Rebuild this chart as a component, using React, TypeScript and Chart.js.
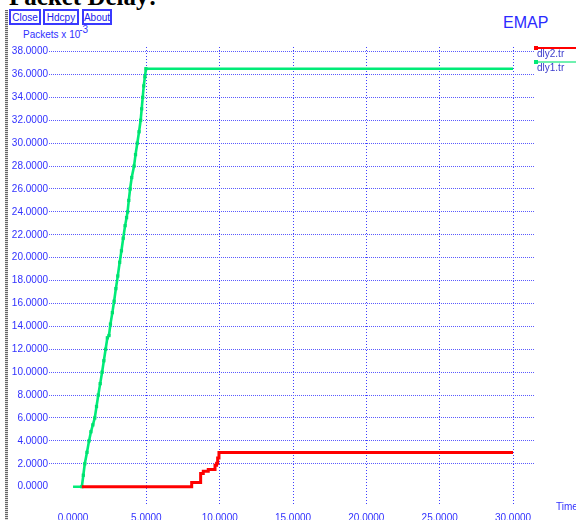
import React, { useEffect, useRef } from "react";
import { Chart, registerables } from "chart.js";

Chart.register(...registerables);

const xTickValues = [0, 5, 10, 15, 20, 25, 30];
const yTickValues = [0, 2, 4, 6, 8, 10, 12, 14, 16, 18, 20, 22, 24, 26, 28, 30, 32, 34, 36, 38];

// dly1.tr (green)
const dly1X = [0.0, 0.6, 0.7, 0.8, 0.95, 1.09, 1.22, 1.35, 1.48, 1.6, 1.72, 1.85, 1.98, 2.1, 2.22, 2.34, 2.45, 2.55, 2.68, 2.8, 2.92, 3.05, 3.18, 3.3, 3.42, 3.55, 3.65, 3.72, 3.8, 3.89, 4.0, 4.16, 4.26, 4.38, 4.5, 4.61, 4.68, 4.75, 4.82, 4.9, 4.97, 30];
const dly1Y = [0, 0, 1.0, 2.0, 3.0, 4.0, 4.8, 5.4, 6.0, 7.0, 8.0, 9.0, 10.0, 11.0, 12.0, 13.0, 13.2, 14.2, 15.2, 16.2, 17.3, 18.4, 19.6, 20.6, 21.7, 22.8, 23.5, 24.0, 25.0, 26.0, 27.0, 28.0, 29.0, 30.0, 31.0, 32.0, 33.0, 34.0, 35.0, 35.8, 36.5, 36.5];

// dly2.tr (red), stepped
const dly2X = [0.6, 8.09, 8.7, 8.88, 9.22, 9.68, 9.79, 9.86, 9.95, 30];
const dly2Y = [0, 0.37, 1.15, 1.35, 1.5, 1.88, 2.05, 2.5, 2.98, 2.98];

const BLUE = "#3030ff";
const FONT = "'Liberation Sans', Arial, sans-serif";

export default function App() {
  const ref = useRef<HTMLCanvasElement>(null);

  useEffect(() => {
    if (!ref.current) return;
    const green = dly1X.map((x, i) => ({ x, y: dly1Y[i] }));
    const red = dly2X.map((x, i) => ({ x, y: dly2Y[i] }));
    const chart = new Chart(ref.current, {
      type: "scatter",
      data: {
        datasets: [
          {
            label: "dly2.tr",
            data: red,
            showLine: true,
            stepped: true,
            borderColor: "#ff0000",
            backgroundColor: "#ff0000",
            borderWidth: 3,
            pointRadius: 0,
          },
          {
            label: "dly1.tr",
            data: green,
            showLine: true,
            borderColor: "#00eb78",
            backgroundColor: "#00e070",
            borderWidth: 2.6,
            pointStyle: "rect",
            pointRadius: (c: any) => (c.dataIndex === dly1X.length - 1 || c.dataIndex === 0 ? 0 : 2.3),
            pointBorderWidth: 0,
          },
        ],
      },
      options: {
        animation: false,
        responsive: false,
        layout: { padding: { left: 8, top: 47, right: 41, bottom: 0 } },
        plugins: { legend: { display: false }, tooltip: { enabled: false } },
        scales: {
          x: {
            type: "linear",
            min: -1.64,
            max: 31.5,
            afterBuildTicks: (s: any) => {
              s.ticks = xTickValues.map((v) => ({ value: v }));
            },
            afterFit: (s: any) => {
              s.height = 15;
            },
            grid: {
              drawTicks: false,
              lineWidth: 1,
              color: (c: any) => (c.tick && c.tick.value === 0 ? "rgba(0,0,0,0)" : "#4040ff"),
            },
            border: { display: false, dash: [1, 2] },
            ticks: {
              padding: 7,
              color: BLUE,
              autoSkip: false,
              maxRotation: 0,
              font: { family: FONT, size: 10 },
              callback: (v: any) => Number(v).toFixed(4),
            },
          },
          y: {
            min: -1.6,
            max: 38.4,
            afterBuildTicks: (s: any) => {
              s.ticks = yTickValues.map((v) => ({ value: v }));
            },
            afterFit: (s: any) => {
              s.width = 41;
            },
            grid: {
              drawTicks: false,
              lineWidth: 1,
              color: (c: any) => (c.tick && c.tick.value === 0 ? "rgba(0,0,0,0)" : "#5a5aff"),
            },
            border: { display: false, dash: [1, 1] },
            ticks: {
              padding: 1,
              color: BLUE,
              autoSkip: false,
              font: { family: FONT, size: 10 },
              callback: (v: any) => Number(v).toFixed(4),
            },
          },
        },
      },
    } as any);
    return () => chart.destroy();
  }, []);

  const abs = (s: React.CSSProperties): React.CSSProperties => ({ position: "absolute", ...s });
  const btn: React.CSSProperties = {
    position: "absolute",
    top: 9,
    height: 16,
    boxSizing: "border-box",
    border: "2px solid #3a3aff",
    color: "#2020ee",
    fontFamily: FONT,
    fontSize: 10,
    display: "flex",
    alignItems: "center",
    justifyContent: "center",
  };

  return (
    <div style={{ position: "fixed", left: 0, top: 0, width: 576, height: 520, overflow: "hidden", background: "#fff" }}>
      <div
        style={abs({
          left: 9,
          top: -16,
          fontFamily: "'Liberation Serif', 'Times New Roman', serif",
          fontWeight: "bold",
          fontSize: 25,
          lineHeight: "25px",
          color: "#000",
          whiteSpace: "nowrap",
        })}
      >
        Packet Delay:
      </div>
      <div
        style={abs({
          left: 5,
          top: 10,
          width: 3,
          height: 510,
          background: "repeating-linear-gradient(#666 0px, #666 1px, #ddd 1px, #ddd 2px)",
        })}
      />
      <div style={{ ...btn, left: 9, width: 32 }}>Close</div>
      <div style={{ ...btn, left: 43, width: 36 }}>Hdcpy</div>
      <div style={{ ...btn, left: 82, width: 30 }}>About</div>
      <div style={abs({ left: 23, top: 29.5, fontFamily: FONT, fontSize: 10, lineHeight: "10px", color: BLUE, whiteSpace: "nowrap" })}>
        Packets x 10
        <span style={{ position: "relative", top: -5, marginLeft: -1 }}>-3</span>
      </div>
      <div style={abs({ left: 503, top: 14.5, fontFamily: FONT, fontSize: 16, lineHeight: "16px", color: "#2a2aff" })}>EMAP</div>
      <canvas ref={ref} width={576} height={520} style={{ position: "absolute", left: 0, top: 0, width: 576, height: 520 }} />
      <div style={abs({ left: 535, top: 47, width: 41, height: 2, background: "#ff0000" })} />
      <div style={abs({ left: 534, top: 46, width: 4, height: 4, background: "#ff0000" })} />
      <div style={abs({ left: 537, top: 48.5, fontFamily: FONT, fontSize: 10, lineHeight: "10px", color: "#3a3acc" })}>dly2.tr</div>
      <div style={abs({ left: 535, top: 61, width: 41, height: 2, background: "#70f0b0" })} />
      <div style={abs({ left: 534, top: 60, width: 4, height: 4, background: "#00eb78" })} />
      <div style={abs({ left: 537, top: 62.5, fontFamily: FONT, fontSize: 10, lineHeight: "10px", color: "#3a3acc" })}>dly1.tr</div>
      <div style={abs({ left: 556, top: 501.5, fontFamily: FONT, fontSize: 10, lineHeight: "10px", color: BLUE, whiteSpace: "nowrap" })}>Time</div>
    </div>
  );
}
